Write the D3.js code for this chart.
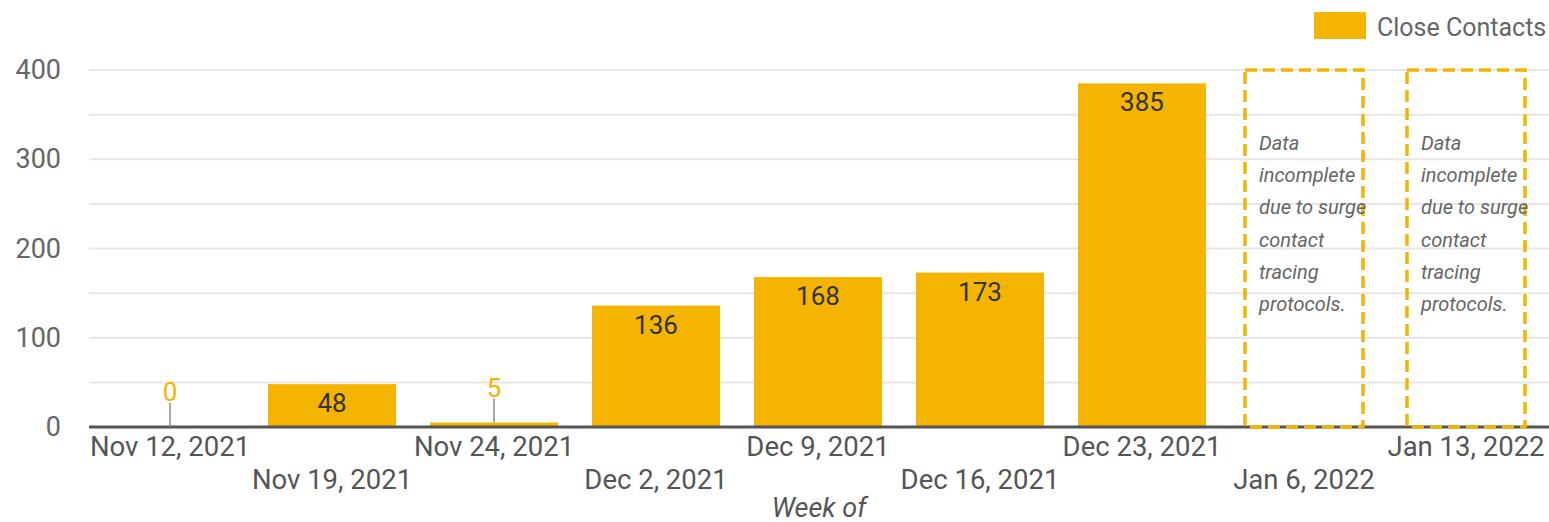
<!DOCTYPE html>
<html>
<head>
<meta charset="utf-8">
<script src="https://cdn.jsdelivr.net/npm/d3@7"></script>
<style>
  body { margin: 0; background: #fff; }
  svg { font-family: Roboto, sans-serif; }
</style>
</head>
<body>
<div id="chart"></div>
<script>
// data
var weeks = ["Nov 12, 2021", "Nov 19, 2021", "Nov 24, 2021", "Dec 2, 2021", "Dec 9, 2021",
  "Dec 16, 2021", "Dec 23, 2021", "Jan 6, 2022", "Jan 13, 2022"];
var contacts = [0, 48, 5, 136, 168, 173, 385, null, null];
var yTicks = [0, 100, 200, 300, 400];
var noteLines = ["Data", "incomplete", "due to surge", "contact", "tracing", "protocols."];
var seriesName = "Close Contacts";

var svgWidth = 1549;
var svgHeight = 522;
var margin = { top: 70, right: 2, bottom: 95, left: 89 };
var width = svgWidth - margin.left - margin.right;
var height = svgHeight - margin.top - margin.bottom;

var gold = "#f4b400";

var svg = d3.select("#chart").append("svg")
  .attr("width", svgWidth)
  .attr("height", svgHeight);

var chartGroup = svg.append("g")
  .attr("transform", `translate(${margin.left}, ${margin.top})`);

var x = d3.scaleBand()
  .domain(weeks)
  .range([0, width])
  .paddingInner(0.21)
  .paddingOuter(0.105);

var y = d3.scaleLinear()
  .domain([0, 400])
  .range([height, 0]);

// gridlines every 50
chartGroup.append("g")
  .selectAll("line")
  .data(d3.range(50, 401, 50))
  .enter().append("line")
  .attr("x1", 0).attr("x2", width + margin.right)
  .attr("y1", d => y(d)).attr("y2", d => y(d))
  .attr("stroke", "#e6e6e6")
  .attr("stroke-width", 2);

// y axis labels
var leftAxis = d3.axisLeft(y).tickValues(yTicks).tickSize(0).tickPadding(28);
var yAxis = chartGroup.append("g").call(leftAxis);
yAxis.select(".domain").remove();
yAxis.selectAll("text")
  .attr("font-size", 27)
  .attr("font-family", "Roboto, sans-serif")
  .attr("fill", "#666");

var rows = weeks.map(function(w, i) {
  return { week: w, value: contacts[i] };
});

// bars
chartGroup.selectAll(".bar")
  .data(rows.filter(d => d.value !== null))
  .enter().append("rect")
  .attr("class", "bar")
  .attr("x", d => x(d.week))
  .attr("width", x.bandwidth())
  .attr("y", d => y(d.value))
  .attr("height", d => height - y(d.value))
  .attr("fill", gold);

// baseline
chartGroup.append("line")
  .attr("x1", 0).attr("x2", width + margin.right)
  .attr("y1", y(0)).attr("y2", y(0))
  .attr("stroke", "#555")
  .attr("stroke-width", 3);

// dashed boxes for missing weeks
var missing = rows.filter(d => d.value === null);
var bw = x.bandwidth() - 10;
var boxes = chartGroup.selectAll(".note")
  .data(missing)
  .enter().append("g")
  .attr("class", "note")
  .attr("transform", d => `translate(${x(d.week) + x.bandwidth() / 2 - bw / 2}, 0)`);

boxes.append("rect")
  .attr("x", 0).attr("y", 0)
  .attr("width", bw)
  .attr("height", y(0))
  .attr("fill", "none")
  .attr("stroke", gold)
  .attr("stroke-width", 3.5)
  .attr("stroke-dasharray", "12,6");

boxes.append("text")
  .attr("font-size", 20)
  .attr("font-style", "italic")
  .attr("fill", "#666")
  .selectAll("tspan")
  .data(noteLines)
  .enter().append("tspan")
  .attr("x", 14)
  .attr("y", (d, i) => 80 + i * 32.2)
  .text(d => d);

// value labels
var big = rows.filter(d => d.value !== null && d.value >= 20);
var small = rows.filter(d => d.value !== null && d.value < 20);

chartGroup.selectAll(".val")
  .data(big)
  .enter().append("text")
  .attr("class", "val")
  .attr("x", d => x(d.week) + x.bandwidth() / 2)
  .attr("y", d => y(d.value) + 28)
  .attr("text-anchor", "middle")
  .attr("font-size", 26)
  .attr("fill", "#333")
  .text(d => d.value);

chartGroup.selectAll(".stem")
  .data(small)
  .enter().append("line")
  .attr("x1", d => x(d.week) + x.bandwidth() / 2)
  .attr("x2", d => x(d.week) + x.bandwidth() / 2)
  .attr("y1", d => y(d.value))
  .attr("y2", d => y(d.value) - 24)
  .attr("stroke", "#888")
  .attr("stroke-width", 1.5);

chartGroup.selectAll(".sval")
  .data(small)
  .enter().append("text")
  .attr("class", "sval")
  .attr("x", d => x(d.week) + x.bandwidth() / 2)
  .attr("y", d => y(d.value) - 26)
  .attr("text-anchor", "middle")
  .attr("font-size", 26)
  .attr("fill", gold)
  .text(d => d.value);

// x labels, staggered
var bottomAxis = d3.axisBottom(x).tickSize(0);
var xAxis = chartGroup.append("g")
  .attr("transform", `translate(0, ${height})`)
  .call(bottomAxis);
xAxis.select(".domain").remove();
xAxis.selectAll("text")
  .attr("font-size", 27.5)
  .attr("font-family", "Roboto, sans-serif")
  .attr("fill", "#555")
  .attr("dy", null)
  .attr("y", (d, i) => i % 2 === 0 ? 29 : 62);

// axis title
chartGroup.append("text")
  .attr("x", width / 2 + 1)
  .attr("y", height + 90)
  .attr("text-anchor", "middle")
  .attr("font-size", 27)
  .attr("font-style", "italic")
  .attr("fill", "#555")
  .text("Week of");

// legend
var legend = svg.append("g").attr("transform", "translate(1314, 12)");
legend.append("rect")
  .attr("width", 52).attr("height", 27)
  .attr("fill", gold);
legend.append("text")
  .attr("x", 63).attr("y", 24)
  .attr("font-size", 25)
  .attr("fill", "#666")
  .text(seriesName);
</script>
</body>
</html>
